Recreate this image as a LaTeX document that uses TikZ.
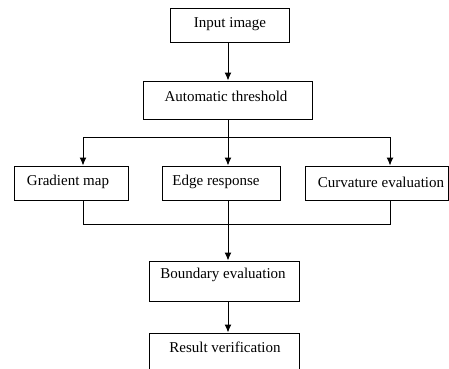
\documentclass[tikz,border=0pt]{standalone}
\usepackage{fontspec}
\setmainfont{Liberation Serif}
\usetikzlibrary{arrows.meta}
\begin{document}
\begin{tikzpicture}[x=1pt,y=-1pt,
  box/.style={draw=black,line width=1pt,fill=white,inner sep=0pt},
  lbl/.style={inner sep=0pt,font=\fontsize{15}{17}\selectfont},
  conn/.style={line width=1pt},
  arr/.style={conn,-{Latex[length=8pt,width=7pt]}}]
\useasboundingbox[fill=white] (0,0) rectangle (449,368);
% boxes
\node[box,minimum width=119pt,minimum height=34pt] (in) at (229.5,25) {};
\node[box,minimum width=169pt,minimum height=38pt] (at) at (227.5,100) {};
\node[box,minimum width=114pt,minimum height=34pt] (gm) at (71,183) {};
\node[box,minimum width=118pt,minimum height=34pt] (er) at (221,183) {};
\node[box,minimum width=143pt,minimum height=34pt] (ce) at (377,183) {};
\node[box,minimum width=150pt,minimum height=40pt] (be) at (224,281) {};
\node[box,minimum width=150pt,minimum height=46pt] (rv) at (224,356) {};
% labels
\node[lbl] (tin) at (230,24) {Input image};
\node[lbl] (tat) at (226,96) {Automatic threshold};
\node[lbl] (tgm) at (68,182) {Gradient map};
\node[lbl] (ter) at (216,182) {Edge response};
\node[lbl] (tce) at (381,182) {Curvature evaluation};
\node[lbl] (tbe) at (223,275) {Boundary evaluation};
\node[lbl] (trv) at (225,347) {Result verification};
% routing coordinates
\coordinate (trunk) at (228,0);
\coordinate (gx) at (83,0);
\coordinate (cx) at (390,0);
\coordinate (split) at (228,137);
\coordinate (join) at (228,224);
% connectors
\draw[arr] (in.south -| trunk) -- (at.north -| trunk);
\draw[conn] (at.south -| trunk) -- (split);
\draw[conn] (split -| gx) -- (split -| cx);
\draw[arr] (split -| gx) -- (gm.north -| gx);
\draw[arr] (split) -- (er.north -| trunk);
\draw[arr] (split -| cx) -- (ce.north -| cx);
\draw[conn] (gm.south -| gx) -- (join -| gx) -- (join -| cx) -- (ce.south -| cx);
\draw[arr] (er.south -| trunk) -- (be.north -| trunk);
\draw[arr] (be.south -| trunk) -- (rv.north -| trunk);
\end{tikzpicture}
\end{document}
